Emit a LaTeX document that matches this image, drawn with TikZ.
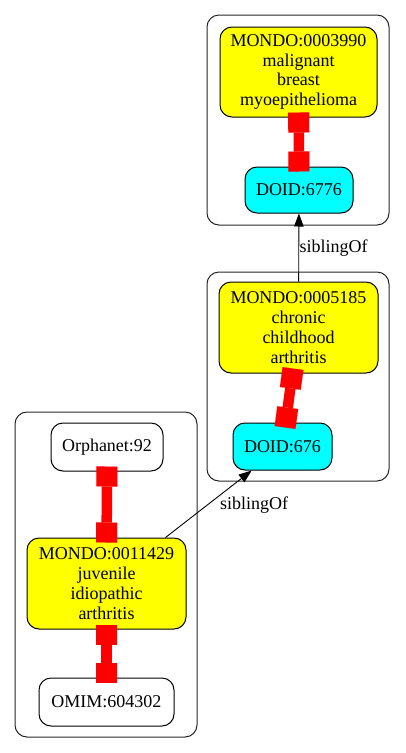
\documentclass[tikz,border=0pt]{standalone}
\usepackage{fontspec}
\setmainfont{Liberation Serif}
\usetikzlibrary{arrows.meta}
\definecolor{gvyellow}{RGB}{255,255,0}
\definecolor{gvcyan}{RGB}{0,255,255}
\definecolor{gvred}{RGB}{255,0,0}
\begin{document}
\begin{tikzpicture}[x=1pt,y=-1pt,
  cluster/.style={draw=black!85, line width=1pt, rounded corners=12pt},
  nd/.style={draw, line width=1pt, rounded corners=12pt, inner sep=0pt, align=center,
             font=\fontsize{18}{19.8}\selectfont},
  mondo/.style={nd, fill=gvyellow},
  doid/.style={nd, fill=gvcyan},
  plainnode/.style={nd, fill=white},
  lbl/.style={inner sep=0pt, font=\fontsize{18}{19.8}\selectfont},
  xref/.style={gvred, line width=10.5pt,
     {Rectangle[length=20pt,width=21pt,line width=0.01pt]}-{Rectangle[length=20pt,width=21pt,line width=0.01pt]},
     shorten <=-5pt, shorten >=-5pt},
  sib/.style={line width=0.9pt, -{Triangle[length=13pt,width=9.5pt]}}
]
\useasboundingbox (0,0) rectangle (405,753);
% clusters
\draw[cluster] (207,15) rectangle (389,225);
\draw[cluster] (207,272) rectangle (389,481);
\draw[cluster] (15,412) rectangle (197,737);
% nodes
\node[mondo, minimum width=157pt, minimum height=90pt] (m3990) at (298.5,72) {MONDO:0003990\\malignant\\breast\\myoepithelioma};
\node[doid, minimum width=108pt, minimum height=46pt] (d6776) at (299,190) {DOID:6776};
\node[mondo, minimum width=159pt, minimum height=91pt] (m5185) at (298.5,327.5) {MONDO:0005185\\chronic\\childhood\\arthritis};
\node[doid, minimum width=99pt, minimum height=47pt] (d676) at (282.5,446.5) {DOID:676};
\node[plainnode, minimum width=112pt, minimum height=48pt] (orph) at (107,447) {Orphanet:92};
\node[mondo, minimum width=159pt, minimum height=91pt] (m11429) at (106.5,583.5) {MONDO:0011429\\juvenile\\idiopathic\\arthritis};
\node[plainnode, minimum width=135pt, minimum height=48pt] (omim) at (106.5,702) {OMIM:604302};
% equivalence connectors
\draw[xref] (m3990) -- (d6776);
\draw[xref] (m5185) -- (d676);
\draw[xref] (orph) -- (m11429);
\draw[xref] (m11429) -- (omim);
% sibling edges
\draw[sib] (m5185) -- (d6776);
\draw[sib] (m11429) -- (d676);
\node[lbl] (lab1) at (333.5,248) {siblingOf};
\node[lbl] (lab2) at (254,505) {siblingOf};
\end{tikzpicture}
\end{document}
